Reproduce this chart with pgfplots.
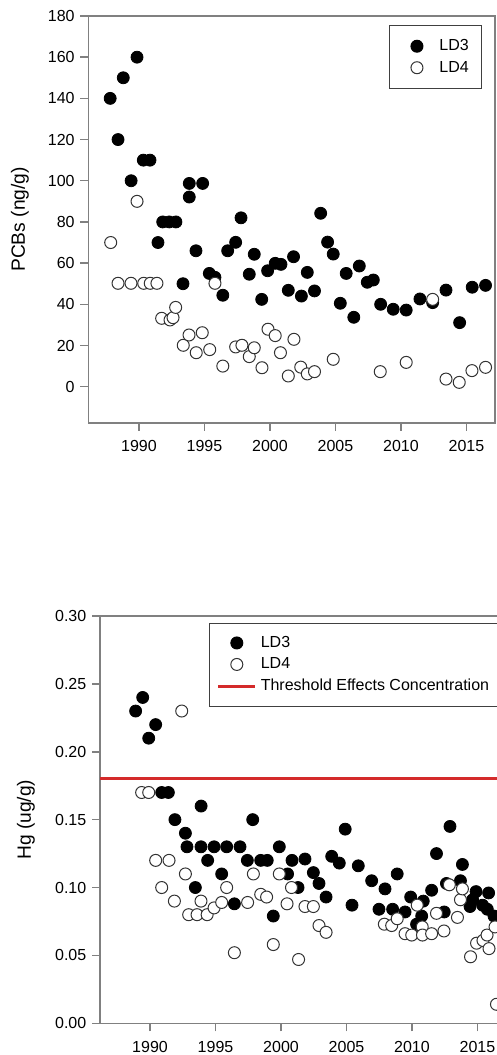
\documentclass[border=0pt]{standalone}
\usepackage{fontspec}
\setmainfont{Liberation Sans}
\usepackage{pgfplots}
\pgfplotsset{compat=1.18}

\definecolor{axgray}{HTML}{808080}
\definecolor{tec}{HTML}{D42A2A}

\pgfplotsset{
  panel/.style={
    scale only axis, width=203.35pt, anchor=south west,
    axis line style={axgray, line width=0.75pt},
    tick style={axgray, line width=0.75pt},
    tick align=outside, major tick length=4pt,
    xtick pos=bottom, ytick pos=left,
    xtick={1990,1995,2000,2005,2010,2015},
    /pgf/number format/assume math mode=true,
    x tick label style={/pgf/number format/1000 sep={}, yshift=-2pt},
    tick label style={font=\fontsize{8}{9.6}\selectfont},
    label style={font=\fontsize{9.6}{11.5}\selectfont},
    legend cell align=left,
    legend style={draw=black!75, line width=0.5pt, inner xsep=3.5pt, inner ysep=4.5pt,
                  font=\fontsize{8}{9.6}\selectfont},
  },
  dotlegend/.style={legend image code/.code={
      \path[draw=none, fill=none] (0pt,0pt) (18.5pt,0pt);
      \draw[##1] plot[only marks] coordinates {(9.25pt,0pt)};}},
  linelegend/.style={legend image code/.code={\draw[##1] (0pt,0pt) -- (18.5pt,0pt);}},
  ld3/.style={only marks, mark=*, mark size=3pt, mark options={fill=black, draw=black}, dotlegend},
  ld4/.style={only marks, mark=*, mark size=3pt, mark options={fill=white, draw=black!80, line width=0.5pt}, dotlegend},
}

\begin{document}
\fontsize{8}{9.6}\selectfont
\begin{tikzpicture}
\useasboundingbox (0,0) rectangle (248.5pt,527.5pt);
\clip (0,0) rectangle (248.5pt,527.5pt);

% PCBs
\begin{axis}[panel,
  at={(44.15pt,316pt)}, height=203.5pt,
  xmin=1986.13, xmax=2017.18, ymin=-17.63, ymax=180,
  ytick={0,20,...,180},
  ylabel={PCBs (ng/g)},
  ylabel style={at={(axis description cs:-0.168,0.5)}, anchor=center},
  legend style={at={(0.9688,0.978)}, anchor=north east, inner ysep=5pt, inner xsep=4.5pt},
]
\addplot[ld3] coordinates {
(1987.8,140)(1988.4,120)(1988.8,150)(1989.4,100)(1989.85,160)(1990.33,110)(1990.84,110)
(1991.45,70)(1991.81,80)(1992.31,80)(1992.82,80)(1993.36,50)(1993.84,98.7)(1993.84,92.1)
(1994.35,66)(1994.86,98.7)(1995.37,55)(1995.8,53.1)(1996.4,44.4)(1996.77,66)(1997.38,70.1)
(1997.79,82)(1998.42,54.6)(1998.8,64.3)(1999.37,42.4)(1999.82,56.3)(2000.4,59.9)(2000.84,59.4)
(2001.4,46.8)(2001.8,63.1)(2002.4,44)(2002.85,55.5)(2003.4,46.5)(2003.87,84.2)(2004.4,70.2)
(2004.83,64.4)(2005.37,40.5)(2005.82,55)(2006.4,33.7)(2006.82,58.6)(2007.43,50.7)(2007.89,51.8)
(2008.45,40)(2009.41,37.6)(2010.4,37.2)(2011.45,42.6)(2012.42,40.8)(2013.44,46.9)(2014.48,31.1)
(2015.44,48.3)(2016.46,49.2)
};
\addplot[ld4] coordinates {
(1987.84,70)(1988.4,50.2)(1989.39,50.2)(1989.85,90)(1990.36,50.2)(1990.86,50.2)(1991.37,50.2)
(1991.73,33.2)(1992.37,32.4)(1992.6,33.5)(1992.8,38.5)(1993.38,20.1)(1993.82,25.1)(1994.37,16.5)
(1994.83,26.2)(1995.4,18)(1995.8,50.2)(1996.4,10)(1997.38,19.3)(1997.86,20.1)(1998.42,14.6)
(1998.8,18.9)(1999.39,9.2)(1999.85,27.9)(2000.4,24.8)(2000.8,16.5)(2001.4,5.2)(2001.83,23)
(2002.35,9.5)(2002.85,6.2)(2003.4,7.3)(2004.83,13.3)(2008.42,7.3)(2010.4,11.8)(2012.42,42.4)
(2013.44,3.7)(2014.45,2.1)(2015.42,7.8)(2016.46,9.4)
};
\legend{LD3, LD4}
\end{axis}

% Hg
\begin{axis}[panel,
  at={(50pt,15.85pt)}, height=203.65pt,
  xmin=1986.18, xmax=2017.23, ymin=0, ymax=0.30,
  ytick={0,0.05,...,0.30},
  yticklabel style={/pgf/number format/.cd, fixed, fixed zerofill, precision=2},
  ylabel={Hg (ug/g)},
  ylabel style={at={(axis description cs:-0.182,0.5)}, anchor=center},
  legend style={at={(0.2688,0.9836)}, anchor=north west},
]
\addplot[ld3] coordinates {
(1988.9,0.230)(1989.44,0.240)(1989.9,0.210)(1990.43,0.220)(1990.89,0.170)(1991.4,0.170)
(1991.9,0.150)(1992.7,0.140)(1992.82,0.130)(1993.46,0.100)(1993.89,0.130)(1993.9,0.160)
(1994.4,0.120)(1994.89,0.130)(1995.47,0.110)(1995.85,0.130)(1996.44,0.088)(1996.87,0.130)
(1997.43,0.120)(1997.84,0.150)(1998.45,0.120)(1998.95,0.120)(1999.41,0.079)(1999.87,0.130)
(2000.5,0.110)(2000.84,0.120)(2001.3,0.100)(2001.83,0.121)(2002.47,0.111)(2002.9,0.103)
(2003.44,0.093)(2003.87,0.123)(2004.45,0.118)(2004.9,0.143)(2005.42,0.087)(2005.9,0.116)
(2006.92,0.105)(2007.48,0.084)(2007.94,0.099)(2008.52,0.084)(2008.87,0.110)(2009.47,0.082)
(2009.9,0.093)(2010.35,0.073)(2010.74,0.079)(2010.86,0.090)(2011.5,0.098)(2011.87,0.125)
(2012.46,0.082)(2012.63,0.103)(2012.9,0.145)(2013.7,0.105)(2013.85,0.117)(2014.43,0.086)
(2014.63,0.091)(2014.89,0.097)(2015.39,0.087)(2015.75,0.084)(2015.85,0.096)(2016.26,0.079)
};
\addplot[ld4] coordinates {
(1989.36,0.170)(1989.9,0.170)(1990.43,0.120)(1990.89,0.100)(1991.45,0.120)(1991.86,0.090)
(1992.42,0.230)(1992.7,0.110)(1992.95,0.080)(1993.59,0.080)(1993.89,0.090)(1994.36,0.080)
(1994.89,0.085)(1995.47,0.089)(1995.85,0.100)(1996.44,0.052)(1997.45,0.089)(1997.89,0.110)
(1998.45,0.095)(1998.9,0.093)(1999.41,0.058)(1999.87,0.110)(2000.46,0.088)(2000.8,0.100)
(2001.34,0.047)(2001.83,0.086)(2002.47,0.086)(2002.9,0.072)(2003.44,0.067)(2007.89,0.073)
(2008.45,0.072)(2008.87,0.077)(2009.47,0.066)(2009.98,0.065)(2010.4,0.087)(2010.78,0.071)
(2010.8,0.065)(2011.5,0.066)(2011.87,0.081)(2012.44,0.068)(2012.85,0.102)(2013.47,0.078)
(2013.7,0.091)(2013.85,0.099)(2014.47,0.049)(2014.93,0.059)(2015.42,0.061)(2015.73,0.065)
(2015.88,0.055)(2016.34,0.071)(2016.45,0.014)
};
\addplot[tec, line width=1.5pt, linelegend] coordinates {(1980,0.18)(2025,0.18)};
\legend{LD3, LD4, Threshold Effects Concentration}
\end{axis}
\end{tikzpicture}
\end{document}
